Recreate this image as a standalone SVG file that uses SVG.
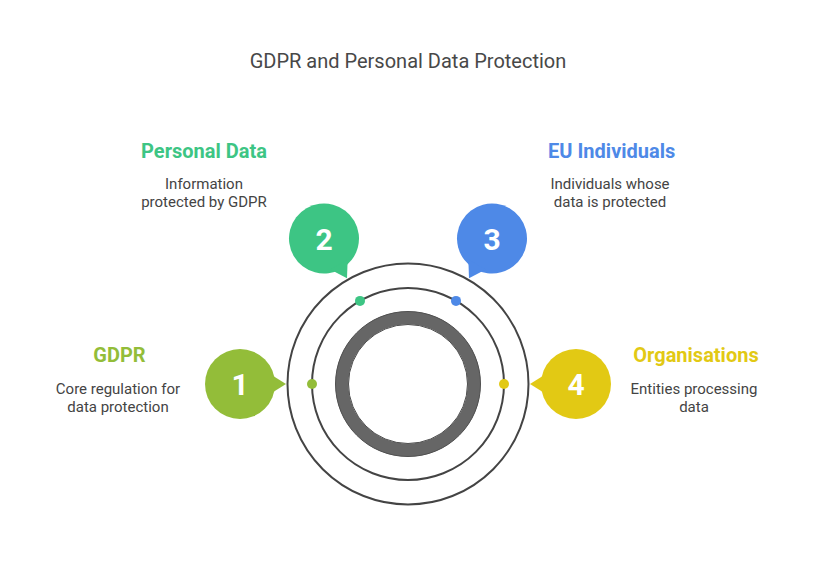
<svg xmlns="http://www.w3.org/2000/svg" width="816" height="564" viewBox="0 0 816 564">
<style>
  text { font-family: Roboto, "Liberation Sans", sans-serif; }
  .title { font-size: 20px; fill: #484848; text-anchor: middle; }
  .head { font-size: 20px; font-weight: 700; text-anchor: middle; }
  .desc { font-size: 15px; fill: #444444; text-anchor: middle; }
  .num { font-size: 30px; font-weight: 700; fill: #ffffff; text-anchor: middle; }
  .ring { fill: none; stroke: #444444; stroke-width: 2; }
</style>
<defs>
  <g id="bubble">
    <circle cx="0" cy="0" r="35"/>
    <polygon points="46,0 30,-10 30,10"/>
  </g>
</defs>
<rect width="816" height="564" fill="#ffffff"/>
<text class="title" x="408" y="68">GDPR and Personal Data Protection</text>

<g id="rings">
  <circle class="ring" cx="408" cy="384" r="120.5"/>
  <circle class="ring" cx="408" cy="384" r="96"/>
  <circle cx="408" cy="384" r="66" fill="none" stroke="#666666" stroke-width="13"/>
  <circle cx="408" cy="384" r="72.5" fill="none" stroke="#505050" stroke-width="1"/>
  <circle cx="408" cy="384" r="59.5" fill="none" stroke="#505050" stroke-width="1"/>
</g>

<g id="node1">
  <use href="#bubble" transform="translate(240,384)" fill="#93bd39"/>
  <text class="num" x="240" y="395">1</text>
  <circle cx="312" cy="384" r="5" fill="#93bd39"/>
  <text class="head" x="119.5" y="362" fill="#93bd39">GDPR</text>
  <text class="desc" x="118" y="393.5">Core regulation for</text>
  <text class="desc" x="118" y="411.5">data protection</text>
</g>

<g id="node2">
  <use href="#bubble" transform="translate(324,238.5) rotate(60)" fill="#3dc584"/>
  <text class="num" x="324" y="249.5">2</text>
  <circle cx="360" cy="300.9" r="5" fill="#3dc584"/>
  <text class="head" x="204" y="157.5" fill="#3dc584">Personal Data</text>
  <text class="desc" x="204" y="188.5">Information</text>
  <text class="desc" x="204" y="206.5">protected by GDPR</text>
</g>

<g id="node3">
  <use href="#bubble" transform="translate(492,238.5) rotate(120)" fill="#4e89e7"/>
  <text class="num" x="492" y="249.5">3</text>
  <circle cx="456" cy="300.9" r="5" fill="#4e89e7"/>
  <text class="head" x="611.7" y="157.5" fill="#4e89e7">EU Individuals</text>
  <text class="desc" x="610" y="188.5">Individuals whose</text>
  <text class="desc" x="610" y="206.5">data is protected</text>
</g>

<g id="node4">
  <use href="#bubble" transform="translate(576,384) rotate(180)" fill="#e2c914"/>
  <text class="num" x="576" y="395">4</text>
  <circle cx="504" cy="384" r="5" fill="#e2c914"/>
  <text class="head" x="696" y="362" fill="#e2c914">Organisations</text>
  <text class="desc" x="694" y="393.5">Entities processing</text>
  <text class="desc" x="694" y="411.5">data</text>
</g>
</svg>
